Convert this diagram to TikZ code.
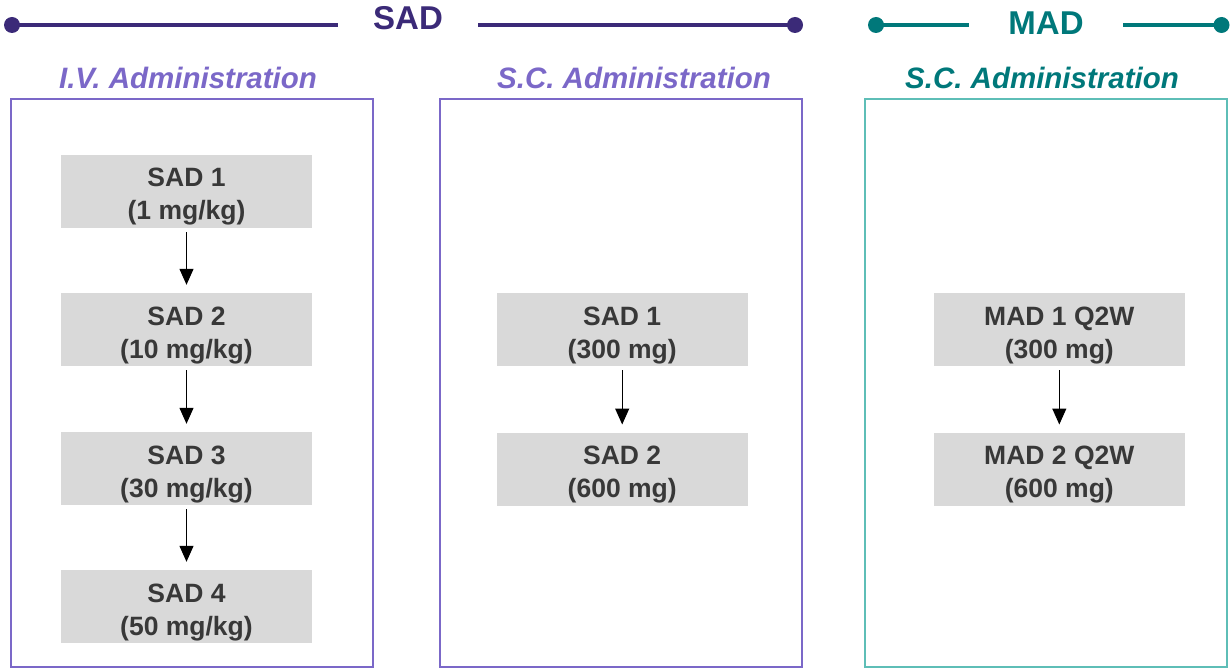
\documentclass[tikz,border=0pt]{standalone}
\usepackage{fontspec}
\setmainfont{Liberation Sans}
\usetikzlibrary{arrows.meta}
\definecolor{sadDark}{HTML}{3B2A78}
\definecolor{sadLight}{HTML}{7B68C8}
\definecolor{madDark}{HTML}{00787A}
\definecolor{madLight}{HTML}{5EBEB7}
\definecolor{doseFill}{HTML}{D9D9D9}
\definecolor{doseText}{HTML}{383838}

\begin{document}
\begin{tikzpicture}[x=1pt,y=-1pt,
  header/.style={font=\fontsize{33}{33}\selectfont\bfseries, inner sep=0pt, anchor=base},
  route/.style={font=\fontsize{29.5}{30}\selectfont\bfseries\itshape, inner sep=0pt, anchor=base},
  panel/.style={draw, line width=2.2pt},
  dose/.style={fill=doseFill, text=doseText, minimum width=251pt, minimum height=73pt,
    inner sep=0pt, align=center, text height=57pt, text depth=0pt,
    font=\fontsize{26.5}{33}\selectfont\bfseries},
  flow/.style={-{Triangle[length=16pt,width=14pt]}, line width=1.2pt, black,
    shorten <=4pt, shorten >=8pt},
  rule/.style={line width=3.5pt},
  dot/.style={circle, inner sep=0pt, minimum size=16pt}
]
\useasboundingbox (0,0) rectangle (1230,668);

% ---- group headers ----
\node[header, text=sadDark] (sadTitle) at (408,29.5) {SAD};
\node[header, text=madDark] (madTitle) at (1046,34.5) {MAD};

\coordinate (sadLe) at (338,25);
\coordinate (sadRs) at (478,25);
\coordinate (madLe) at (969,25);
\coordinate (madRs) at (1123,25);
\node[dot, fill=sadDark] (sadL) at (12,25) {};
\node[dot, fill=sadDark] (sadR) at (795,25) {};
\node[dot, fill=madDark] (madL) at (876,25) {};
\node[dot, fill=madDark] (madR) at (1221.5,25) {};
\draw[rule, sadDark] (sadL.center) -- (sadLe);
\draw[rule, sadDark] (sadRs) -- (sadR.center);
\draw[rule, madDark] (madL.center) -- (madLe);
\draw[rule, madDark] (madRs) -- (madR.center);

% ---- route titles ----
\node[route, text=sadLight] (ivTitle) at (188,88.3) {I.V. Administration};
\node[route, text=sadLight] (scTitle) at (634,88.3) {S.C. Administration};
\node[route, text=madDark] (madScTitle) at (1042,88.3) {S.C. Administration};

% ---- panels ----
\draw[panel, sadLight] (11,99) rectangle (373.3,666.7);
\draw[panel, sadLight] (440,99) rectangle (802.3,666.7);
\draw[panel, madLight] (865,99) rectangle (1226.7,666.7);

% ---- I.V. single ascending doses ----
\node[dose] (iv1) at (186.5,191.5) {SAD 1\\(1 mg/kg)};
\node[dose] (iv2) at (186.5,329.5) {SAD 2\\(10 mg/kg)};
\node[dose] (iv3) at (186.5,468.5) {SAD 3\\(30 mg/kg)};
\node[dose] (iv4) at (186.5,606.5) {SAD 4\\(50 mg/kg)};

% ---- S.C. single ascending doses ----
\node[dose] (sc1) at (622.2,329.5) {SAD 1\\(300 mg)};
\node[dose] (sc2) at (622.2,469.2) {SAD 2\\(600 mg)};

% ---- S.C. multiple ascending doses ----
\node[dose] (mad1) at (1059.3,329.5) {MAD 1 Q2W\\(300 mg)};
\node[dose] (mad2) at (1059.3,469.2) {MAD 2 Q2W\\(600 mg)};

% ---- dose escalation ----
\foreach \a/\b in {iv1/iv2, iv2/iv3, iv3/iv4, sc1/sc2, mad1/mad2}
  \draw[flow] (\a.south) -- (\b.north);
\end{tikzpicture}
\end{document}
